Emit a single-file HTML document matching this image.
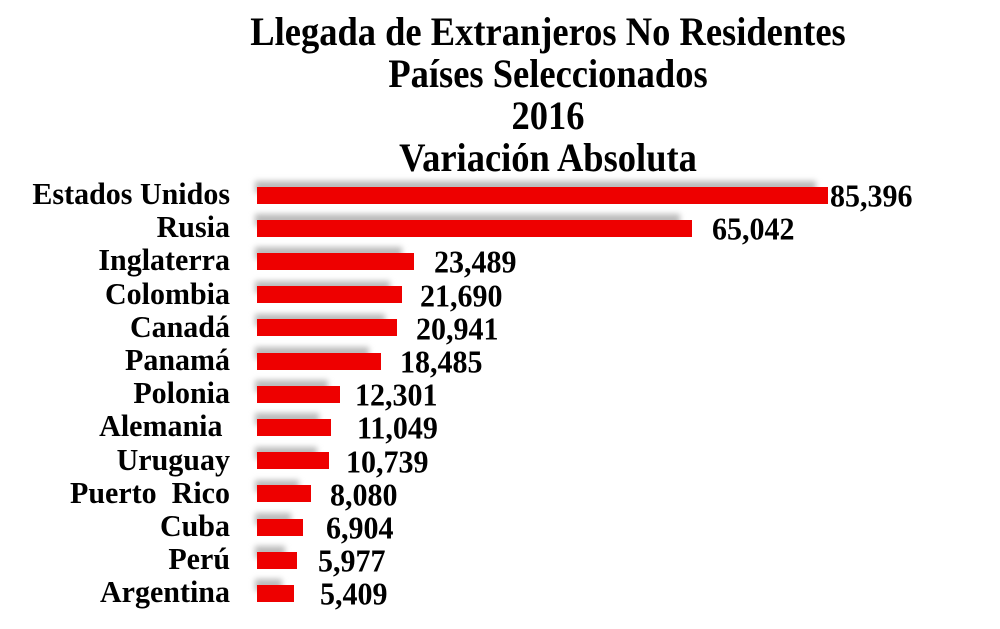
<!DOCTYPE html>
<html><head><meta charset="utf-8"><style>
html,body{margin:0;padding:0;background:#fff;}
body{width:1000px;height:629px;position:relative;overflow:hidden;font-family:"Liberation Serif",serif;font-weight:bold;color:#000;}
.t{position:absolute;left:198px;width:700px;text-align:center;font-size:36.5px;line-height:42px;transform:scaleY(1.1);}
.c{position:absolute;right:770px;font-size:30px;line-height:30px;white-space:pre;transform:scaleY(1.02);transform-origin:right center;}
.b{position:absolute;left:257px;height:17px;background:#ee0000;}
.s{position:absolute;left:255px;height:12px;background:#bbb;filter:blur(3px);}
.v{position:absolute;font-size:30px;line-height:32px;white-space:nowrap;transform:scaleY(1.05);}
</style></head><body>
<div class="t" style="top:11px">Llegada de Extranjeros No Residentes</div>
<div class="t" style="top:53px">Países Seleccionados</div>
<div class="t" style="top:95px">2016</div>
<div class="t" style="top:137px">Variación Absoluta</div>
<div id="rows"></div>
<script>
var d=[["Estados Unidos",828,"85,396",830],["Rusia",692,"65,042",712],["Inglaterra",414,"23,489",434],["Colombia",402,"21,690",420],["Canadá",397,"20,941",416],["Panamá",381,"18,485",400],["Polonia",340,"12,301",355],["Alemania ",331,"11,049",357],["Uruguay",329,"10,739",346],["Puerto  Rico",311,"8,080",330],["Cuba",303,"6,904",326],["Perú",297,"5,977",318],["Argentina",294,"5,409",320]];
var h="";
d.forEach(function(r,i){var cy=195+i*33.2;
h+='<div class="s" style="top:'+(cy-14)+'px;width:'+(r[1]-257-10)+'px"></div>';
h+='<div class="b" style="top:'+(cy-8.5)+'px;width:'+(r[1]-257)+'px"></div>';
h+='<div class="c" style="top:'+(cy-15)+'px">'+r[0]+'</div>';
h+='<div class="v" style="left:'+r[3]+'px;top:'+(cy-14)+'px">'+r[2]+'</div>';});
document.getElementById("rows").innerHTML=h;
</script>
</body></html>
